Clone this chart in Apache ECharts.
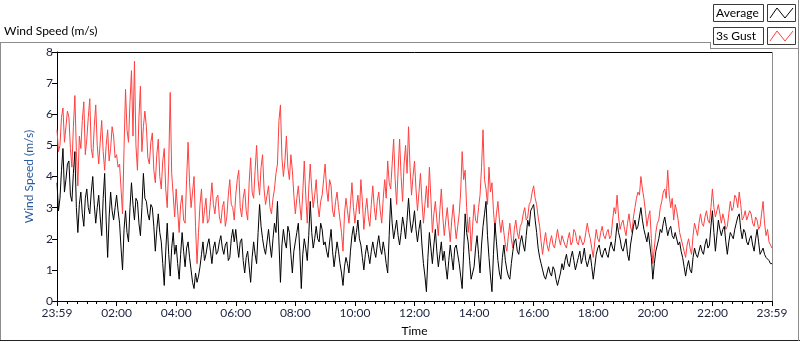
<!DOCTYPE html>
<html>
<head>
<meta charset="utf-8">
<script src="https://cdn.jsdelivr.net/npm/echarts@6/dist/echarts.min.js"></script>
<style>
  html, body { margin: 0; padding: 0; background: #fff; }
  #chart { width: 800px; height: 342px; }
</style>
</head>
<body>
<div id="chart"></div>
<script>
// one sample every 3 minutes, 23:59 -> 23:59
const sampleStep = 3;
const timeLabels = ['23:59', '02:00', '04:00', '06:00', '08:00', '10:00', '12:00',
  '14:00', '16:00', '18:00', '20:00', '22:00', '23:59'];
const yTicks = [0, 1, 2, 3, 4, 5, 6, 7, 8];

// 3s gust (m/s), 20 samples per hour
const gust = [
  5.5, 4.8, 5.0, 5.9, 6.2, 5.1, 5.6, 6.1, 5.9, 4.9, 4.3, 5.6, 6.6, 4.8, 3.7, 5.3, 4.9, 5.8, 6.4, 4.7,
  5.2, 5.9, 6.5, 4.9, 4.6, 5.6, 6.3, 5.0, 4.4, 5.1, 5.8, 4.8, 4.2, 5.0, 5.5, 4.5, 4.9, 5.6, 5.3, 4.6,
  4.7, 4.3, 4.4, 3.6, 2.8, 4.9, 6.8, 5.5, 5.1, 6.4, 7.4, 5.3, 7.7, 5.0, 4.2, 5.9, 6.9, 4.8, 5.6, 6.1,
  5.6, 4.6, 4.4, 5.1, 5.4, 4.2, 3.8, 4.7, 5.2, 4.0, 3.6, 4.5, 4.9, 3.6, 3.0, 4.4, 6.7, 4.1, 3.4, 2.7,
  3.6, 2.9, 2.2, 3.1, 3.4, 2.6, 2.5, 3.9, 5.1, 3.8, 3.0, 3.5, 4.0, 2.4, 1.2, 2.2, 3.1, 3.6, 2.5, 2.9,
  3.3, 2.5, 2.6, 3.2, 3.8, 3.1, 2.8, 3.3, 3.4, 2.7, 2.5, 3.0, 3.2, 2.4, 2.7, 3.4, 3.9, 3.1, 3.0, 2.6,
  3.4, 3.9, 4.2, 3.0, 2.7, 3.3, 3.6, 2.9, 2.6, 3.8, 4.6, 3.5, 3.3, 4.2, 5.0, 3.9, 3.4, 4.3, 4.7, 3.6,
  3.1, 3.4, 3.7, 3.0, 2.8, 3.3, 3.6, 4.1, 4.4, 5.8, 6.3, 4.6, 4.0, 4.5, 5.3, 4.3, 3.9, 4.7, 4.2, 3.4,
  2.8, 3.3, 3.7, 3.1, 2.6, 3.5, 4.5, 3.4, 2.5, 3.6, 4.4, 3.6, 3.0, 3.4, 3.9, 3.1, 2.7, 3.2, 3.4, 3.9,
  4.4, 3.6, 3.2, 3.9, 3.7, 2.9, 2.7, 3.2, 3.5, 3.0, 2.6, 2.2, 1.6, 2.8, 3.3, 2.9, 2.5, 3.1, 3.8, 3.0,
  2.5, 3.0, 3.4, 2.8, 3.9, 3.2, 2.3, 2.9, 3.3, 2.7, 2.4, 3.1, 3.7, 3.0, 2.6, 3.2, 3.5, 2.9, 2.5, 3.3,
  3.9, 3.3, 4.5, 3.8, 3.6, 4.4, 5.2, 3.9, 3.1, 4.2, 5.2, 4.0, 3.2, 4.4, 5.0, 4.1, 5.6, 4.3, 3.4, 4.0,
  4.5, 3.6, 2.9, 3.5, 4.1, 3.2, 2.5, 3.1, 3.7, 3.0, 4.3, 3.3, 2.2, 2.8, 3.2, 2.6, 2.1, 2.9, 3.6, 2.7,
  2.1, 2.6, 3.0, 2.4, 1.9, 2.6, 3.1, 2.5, 2.0, 2.4, 2.8, 3.5, 4.8, 3.9, 4.2, 3.0, 2.2, 2.7, 1.6, 2.4,
  3.1, 2.6, 2.5, 3.0, 3.4, 4.3, 5.5, 3.9, 3.6, 3.1, 4.3, 3.5, 3.8, 2.9, 2.3, 2.8, 3.2, 2.6, 2.2, 2.6,
  2.2, 1.8, 1.6, 2.1, 2.5, 2.0, 1.7, 2.3, 2.6, 2.2, 2.0, 2.4, 2.5, 2.8, 3.0, 2.6, 2.7, 3.1, 3.2, 3.5,
  3.7, 3.3, 3.1, 2.7, 2.4, 1.9, 1.5, 1.9, 2.2, 1.8, 1.6, 1.9, 2.1, 1.8, 1.7, 2.0, 2.3, 2.0, 1.8, 2.1,
  2.1, 1.8, 1.7, 2.0, 2.2, 1.8, 1.9, 2.3, 2.2, 1.9, 1.8, 2.1, 2.1, 1.8, 1.9, 2.2, 2.5, 2.2, 2.0, 1.7,
  1.4, 1.9, 2.3, 2.0, 1.9, 2.2, 2.4, 2.1, 2.0, 2.2, 2.3, 2.0, 2.1, 2.6, 3.0, 2.8, 3.4, 2.7, 2.3, 2.5,
  2.6, 2.3, 2.1, 2.5, 2.8, 2.4, 2.2, 2.7, 3.0, 3.3, 3.5, 3.4, 4.0, 3.6, 3.3, 2.9, 2.4, 2.7, 2.9, 2.0,
  1.2, 1.7, 2.2, 2.5, 2.6, 3.0, 3.2, 3.5, 3.6, 3.3, 4.2, 3.4, 3.0, 3.3, 2.6, 3.1, 2.9, 2.6, 2.2, 2.0,
  1.8, 1.6, 1.4, 1.8, 2.0, 1.7, 1.5, 2.1, 2.5, 2.3, 2.1, 2.5, 2.8, 2.5, 2.4, 2.7, 2.9, 2.6, 2.5, 3.0,
  3.6, 3.0, 2.7, 2.9, 3.1, 2.8, 2.5, 2.8, 2.6, 2.3, 2.4, 2.8, 3.2, 2.9, 3.0, 3.4, 3.3, 3.0, 3.5, 3.1,
  2.6, 2.7, 2.9, 2.6, 2.6, 2.9, 2.8, 2.5, 2.4, 2.7, 2.6, 2.3, 2.4, 2.8, 3.2, 2.5, 2.1, 2.3, 1.9, 1.8, 1.7
];

// average (m/s)
const average = [
  3.8, 2.9, 3.3, 4.2, 4.9, 3.5, 3.9, 4.4, 4.5, 3.4, 3.2, 4.1, 4.8, 3.0, 2.2, 3.1, 3.5, 2.8, 2.4, 3.3,
  3.6, 3.0, 2.8, 3.5, 4.0, 3.1, 2.5, 3.0, 3.4, 2.7, 2.1, 3.3, 4.1, 2.6, 1.4, 2.7, 3.5, 2.9, 2.6, 3.0,
  3.4, 2.9, 2.5, 1.7, 1.0, 2.3, 2.9, 2.2, 1.9, 3.0, 3.8, 3.1, 2.6, 3.3, 3.2, 2.5, 2.1, 3.0, 4.1, 3.3,
  3.2, 2.8, 2.6, 3.1, 3.0, 2.4, 1.6, 2.3, 2.8, 2.2, 1.9, 1.2, 0.5, 1.6, 2.5, 1.5, 0.8, 1.7, 2.2, 1.5,
  1.8, 1.2, 0.7, 1.5, 2.2, 1.6, 1.1, 1.7, 1.9, 1.4, 1.0, 0.6, 0.4, 0.9, 0.6, 0.8, 1.1, 1.5, 1.9, 1.3,
  1.5, 1.8, 2.0, 1.6, 1.2, 1.7, 1.9, 1.5, 1.6, 1.9, 2.1, 1.7, 1.5, 1.8, 1.9, 1.3, 1.4, 2.0, 2.3, 1.9,
  2.3, 1.8, 1.4, 1.9, 2.0, 1.3, 0.9, 1.4, 1.6, 1.1, 0.6, 1.4, 1.9, 1.5, 1.2, 2.2, 3.1, 2.4, 2.0, 1.7,
  1.5, 1.9, 2.3, 1.8, 1.4, 2.0, 2.5, 2.2, 3.2, 1.9, 0.6, 1.8, 2.3, 1.9, 1.7, 2.4, 2.2, 1.5, 0.9, 1.6,
  1.9, 2.2, 2.5, 1.6, 0.4, 1.5, 2.0, 1.7, 1.3, 2.1, 3.2, 2.2, 1.7, 2.0, 2.4, 2.0, 1.9, 2.5, 2.3, 1.8,
  1.9, 1.6, 1.4, 1.9, 2.3, 1.6, 1.1, 1.5, 1.9, 1.6, 1.2, 0.9, 0.5, 1.1, 1.4, 1.2, 0.9, 1.6, 2.1, 2.4,
  1.9, 2.2, 2.6, 2.0, 1.8, 1.4, 1.0, 1.5, 1.8, 1.5, 1.2, 1.6, 1.9, 1.6, 1.4, 1.8, 2.1, 1.7, 1.5, 1.9,
  1.6, 1.2, 0.9, 2.1, 3.3, 2.5, 2.0, 2.3, 2.6, 2.1, 1.8, 2.2, 2.7, 2.4, 2.0, 2.6, 3.3, 2.6, 2.2, 2.5,
  2.9, 2.3, 1.9, 2.3, 2.6, 1.8, 1.2, 0.8, 0.3, 1.4, 2.2, 1.7, 1.2, 1.8, 2.3, 1.6, 1.1, 1.5, 1.9, 1.3,
  1.6, 1.1, 0.7, 1.3, 1.8, 1.4, 1.0, 1.7, 1.8, 1.5, 1.2, 0.8, 0.4, 1.6, 2.8, 2.2, 1.9, 1.3, 0.7, 0.9,
  1.1, 1.7, 2.1, 1.5, 0.9, 1.8, 2.4, 2.8, 3.2, 2.1, 1.4, 0.8, 0.3, 1.5, 2.5, 1.9, 1.3, 0.9, 0.7, 1.4,
  1.8, 1.3, 1.0, 0.8, 0.7, 1.2, 1.6, 1.9, 2.0, 1.6, 1.5, 1.9, 2.1, 1.8, 1.6, 2.1, 2.6, 2.4, 2.9, 3.0,
  3.1, 2.6, 2.2, 1.7, 1.4, 1.2, 1.0, 0.8, 0.7, 0.9, 1.1, 0.9, 0.8, 1.1, 1.0, 0.7, 0.5, 0.7, 0.9, 1.2,
  1.0, 1.3, 1.5, 1.2, 1.1, 1.4, 1.6, 1.3, 1.0, 1.2, 1.4, 1.6, 1.2, 1.4, 1.7, 1.3, 1.1, 1.3, 1.5, 1.1,
  0.7, 1.1, 1.5, 1.7, 1.8, 1.5, 1.4, 1.6, 1.7, 1.5, 1.4, 1.7, 1.9, 1.7, 1.6, 2.0, 2.5, 2.2, 2.0, 1.7,
  1.6, 1.8, 2.0, 1.5, 1.3, 1.8, 2.1, 2.4, 2.6, 2.3, 2.4, 2.7, 3.0, 2.6, 2.3, 2.1, 1.9, 2.2, 2.2, 1.4,
  0.7, 1.2, 1.6, 1.8, 2.0, 2.3, 2.2, 2.5, 2.7, 2.4, 2.1, 2.3, 2.4, 2.1, 2.0, 2.2, 2.2, 1.8, 1.9, 1.6,
  1.4, 1.1, 0.8, 1.1, 1.3, 1.0, 0.9, 1.4, 1.7, 1.5, 1.4, 1.6, 1.8, 1.6, 1.5, 1.8, 2.0, 1.7, 1.8, 2.4,
  2.9, 2.2, 1.6, 2.1, 2.6, 2.3, 2.1, 2.3, 2.4, 1.9, 1.5, 1.9, 2.2, 2.1, 2.0, 2.3, 2.5, 2.7, 2.8, 2.3,
  2.0, 2.3, 2.2, 1.9, 1.8, 2.0, 2.1, 1.8, 1.6, 2.0, 2.3, 1.9, 1.5, 1.6, 1.7, 1.5, 1.4, 1.4, 1.3, 1.2, 1.2
];

const toPairs = arr => arr.map((v, i) => [i * sampleStep, v]);

const FONT = 'Lato';
const frameGray = '#8c8c8c';

const chart = echarts.init(document.getElementById('chart'));

const plot = { left: 57, right: 772, top: 52, bottom: 302 };

function legendItem(label, y, color) {
  return [
    {
      type: 'rect', shape: { x: 713.5, y: y + 0.5, width: 50, height: 17 },
      style: { fill: '#fff', stroke: '#3a3a3a', lineWidth: 1 }
    },
    {
      type: 'text', x: 716, y: y + 9.5,
      style: { text: label, fill: '#000', font: '12px ' + FONT, textVerticalAlign: 'middle' }
    },
    {
      type: 'rect', shape: { x: 767.5, y: y + 0.5, width: 28, height: 17 },
      style: { fill: '#fff', stroke: '#3a3a3a', lineWidth: 1 }
    },
    {
      type: 'polyline',
      shape: { points: [[770, y + 14], [777, y + 4], [785, y + 14], [793, y + 4]] },
      style: { stroke: color, lineWidth: 1, fill: null }
    }
  ];
}

const option = {
  animation: false,
  grid: { left: plot.left, right: 800 - plot.right, top: plot.top, bottom: 342 - plot.bottom },
  xAxis: {
    type: 'value',
    min: 0,
    max: 1440,
    interval: 120,
    name: 'Time',
    nameLocation: 'middle',
    nameGap: 24,
    nameTextStyle: { fontFamily: FONT, fontSize: 12, color: '#000' },
    axisLine: { lineStyle: { color: '#000', width: 1 } },
    axisTick: { show: true, length: 5, lineStyle: { color: '#000' } },
    minorTick: { show: true, splitNumber: 6, length: 3, lineStyle: { color: '#000' } },
    splitLine: { show: false },
    axisLabel: {
      fontFamily: FONT, fontSize: 12, color: '#1c2340', margin: 6,
      formatter: v => timeLabels[Math.round(v / 120)]
    }
  },
  yAxis: {
    type: 'value',
    min: yTicks[0],
    max: yTicks[yTicks.length - 1],
    interval: 1,
    name: 'Wind Speed (m/s)',
    nameLocation: 'middle',
    nameRotate: 90,
    nameGap: 22,
    nameTextStyle: { fontFamily: FONT, fontSize: 12, color: '#28599c' },
    axisLine: { show: true, lineStyle: { color: '#000', width: 1 } },
    axisTick: { show: true, length: 5, lineStyle: { color: '#000' } },
    splitLine: { show: false },
    axisLabel: { fontFamily: FONT, fontSize: 12, color: '#1c2340', margin: 4 }
  },
  series: [
    {
      name: '3s Gust', type: 'line', data: toPairs(gust),
      showSymbol: false, symbol: 'none', z: 2,
      lineStyle: { color: '#ff4040', width: 1 }
    },
    {
      name: 'Average', type: 'line', data: toPairs(average),
      showSymbol: false, symbol: 'none', z: 3,
      lineStyle: { color: '#000', width: 1 }
    }
  ],
  graphic: [
    // panel title and frame
    {
      type: 'text', x: 4, y: 31,
      style: { text: 'Wind Speed (m/s)', fill: '#000', font: '12px ' + FONT, textVerticalAlign: 'middle' }
    },
    { type: 'line', shape: { x1: 0, y1: 42.5, x2: 710, y2: 42.5 }, style: { stroke: frameGray } },
    { type: 'line', shape: { x1: 0.5, y1: 42, x2: 0.5, y2: 341 }, style: { stroke: frameGray } },
    { type: 'line', shape: { x1: 0, y1: 340.5, x2: 800, y2: 340.5 }, style: { stroke: '#222' } },
    { type: 'line', shape: { x1: 798.5, y1: 0, x2: 798.5, y2: 341 }, style: { stroke: frameGray } },
    { type: 'line', shape: { x1: 710.5, y1: 42, x2: 710.5, y2: 49 }, style: { stroke: frameGray } },
    { type: 'line', shape: { x1: 710, y1: 48.5, x2: 799, y2: 48.5 }, style: { stroke: frameGray } },
    // plot border: black top, grey right
    { type: 'line', shape: { x1: plot.left, y1: plot.top + 0.5, x2: plot.right, y2: plot.top + 0.5 }, style: { stroke: '#000' } },
    { type: 'line', shape: { x1: plot.right + 0.5, y1: plot.top, x2: plot.right + 0.5, y2: plot.bottom }, style: { stroke: frameGray } },
    ...legendItem('Average', 4, '#000'),
    ...legendItem('3s Gust', 27, '#ff4040')
  ]
};

chart.setOption(option);
</script>
</body>
</html>
